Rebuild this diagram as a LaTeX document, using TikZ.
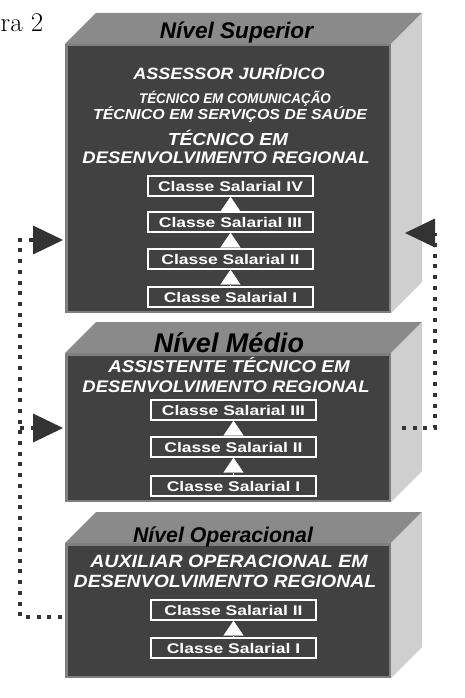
\documentclass[tikz,border=0pt]{standalone}
\usepackage{fontspec}
\usepackage{xcolor}
\usepackage{tikz}
\usetikzlibrary{arrows.meta,positioning,calc}

\newfontfamily\figfont{Latin Modern Roman}
\newfontfamily\cargofont[FakeStretch=1.1]{Liberation Sans}
\newfontfamily\estreitafont[FakeStretch=0.96]{Liberation Sans}
\newfontfamily\classefont[FakeStretch=1.25]{Liberation Sans}
\newfontfamily\titulofont{Liberation Sans}
\newcommand{\tam}[1]{\fontsize{#1}{#1}\selectfont}

\definecolor{frenteC}{HTML}{414141}
\definecolor{bordaC}{HTML}{7F7F7F}
\definecolor{topoC}{HTML}{8A8A8A}
\definecolor{ladoC}{HTML}{CFCFCF}
\definecolor{setaC}{HTML}{333333}

% one level: name, top of front face, bottom of front face
\newcommand{\nivel}[3]{%
	\fill[topoC] (65,#2) -- (96,#2-31) -- (422,#2-31) -- (391,#2) -- cycle;
	\fill[ladoC] (391,#2) -- (422,#2-31) -- (422,#3-31) -- (391,#3) -- cycle;
	\node[frente, minimum height={#3-#2-2.5}] (#1) at (228,{(#2+#3)/2}) {};
}

\begin{document}
\begin{tikzpicture}[x=1pt,y=-1pt,
		frente/.style={draw=bordaC, line width=2.5pt, fill=frenteC, minimum width=323.5pt, inner sep=0pt},
		titulo/.style={anchor=base, font=\titulofont\bfseries\itshape},
		cargo/.style={anchor=base, text=white, font=\cargofont\bfseries\itshape},
		classe/.style={draw=white, line width=1.3pt, text=white, font=\classefont\bfseries\tam{14},
			minimum width=165pt, minimum height=20pt, inner sep=0pt},
		subida/.style={white, -{Triangle[length=15pt,width=20pt]}},
		pontos/.style={draw=setaC, line width=4pt, dash pattern=on 4pt off 6.7pt},
		seta/.style={-{Triangle[length=30pt,width=29pt,line width=0pt]}}]
		\useasboundingbox (0,0) rectangle (464,698);

		\node[anchor=base west, inner sep=0pt, font=\figfont] (figura) at (0.5,32) {\tam{27}ra 2};

		% the three levels
		\nivel{sup}{44}{313}
		\nivel{med}{353}{502}
		\nivel{op}{543}{678}

		\node[titulo] (tsup) at (236.5,39) {\tam{22.6}Nível Superior};
		\node[titulo] (tmed) at (229,352) {\tam{27}Nível Médio};
		\node[titulo] (top) at (223,542) {\tam{21.3}Nível Operacional};

		\node[cargo] (c1) at (229,80) {\tam{16.4}ASSESSOR JURÍDICO};
		\node[cargo] (c2) at (235,103) {\estreitafont\tam{14}TÉCNICO EM COMUNICAÇÃO};
		\node[cargo] (c3) at (230,120) {\tam{14.5}TÉCNICO EM SERVIÇOS DE SAÚDE};
		\node[cargo] (c4) at (228,145) {\tam{17.4}TÉCNICO EM};
		\node[cargo] (c5) at (226,163) {\tam{16.8}DESENVOLVIMENTO REGIONAL};

		\node[cargo] (c6) at (229,372) {\tam{17.1}ASSISTENTE TÉCNICO EM};
		\node[cargo] (c7) at (226,392) {\tam{16.8}DESENVOLVIMENTO REGIONAL};

		\node[cargo] (c8) at (229,567) {\tam{17.8}AUXILIAR OPERACIONAL EM};
		\node[cargo] (c9) at (225,587) {\tam{17.7}DESENVOLVIMENTO REGIONAL};

		% salary classes
		\node[classe] (s4) at (230.5,186) {Classe Salarial IV};
		\node[classe] (s3) at (230.5,222) {Classe Salarial III};
		\node[classe] (s2) at (230.5,259) {Classe Salarial II};
		\node[classe] (s1) at (230.5,297) {Classe Salarial I};
		\draw[subida] (s1.north) -- (s2.south);
		\draw[subida] (s2.north) -- (s3.south);
		\draw[subida] (s3.north) -- (s4.south);

		\node[classe] (m3) at (233.5,410) {Classe Salarial III};
		\node[classe] (m2) at (233.5,447) {Classe Salarial II};
		\node[classe] (m1) at (233.5,486) {Classe Salarial I};
		\draw[subida] (m1.north) -- (m2.south);
		\draw[subida] (m2.north) -- (m3.south);

		\node[classe] (o2) at (233.5,610) {Classe Salarial II};
		\node[classe] (o1) at (233.5,648) {Classe Salarial I};
		\draw[subida] (o1.north) -- (o2.south);

		% dotted connectors
		\coordinate (opE) at (62,617);
		\coordinate (cantoE) at (20,617);
		\coordinate (cantoNE) at (20,240);
		\coordinate (supE) at (63,240);
		\coordinate (ramo) at (20,428);
		\coordinate (medE) at (63,428);
		\coordinate (medD) at (402,428);
		\coordinate (cantoD) at (435,428);
		\coordinate (cantoND) at (435,233);
		\coordinate (supD) at (405,233);

		\draw[pontos, seta, setaC] (opE) -- (cantoE) -- (cantoNE) -- (supE);
		\draw[pontos, seta, setaC] (ramo) -- (medE);
		\draw[pontos, seta, setaC] (medD) -- (cantoD) -- (cantoND) -- (supD);
	\end{tikzpicture}
\end{document}
